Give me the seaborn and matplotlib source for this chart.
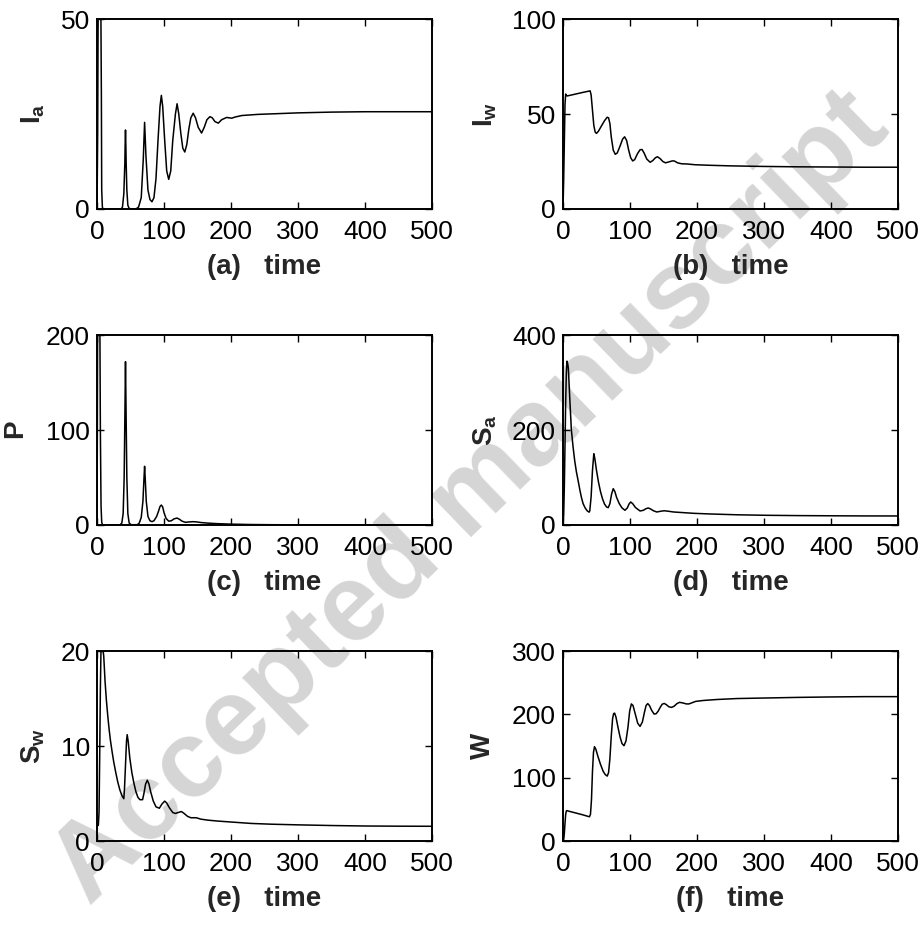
import matplotlib
matplotlib.use("Agg")
import matplotlib.pyplot as plt
import seaborn as sns
import pandas as pd

# values, (time, value)
ia = [(0, 0), (1, 20), (1.5, 45), (2, 60), (5.5, 60), (6.5, 30), (7, 5), (8, 0.5), (9, 0),
      (36, 0), (38, 0.5), (40, 4), (41.5, 12), (42, 17), (42.5, 20.8), (43, 17), (43.5, 12),
      (44.5, 5), (46, 1), (48, 0.1), (58, 0), (62, 0.5), (66, 3), (69, 13), (71, 22.8),
      (73, 14), (76, 5), (79, 2.5), (82, 1.9), (85, 3), (88, 8), (91, 18), (94, 27), (96, 29.9),
      (98, 27), (101, 18), (104, 10), (107, 7.8), (110, 10), (113, 18), (117, 25), (119.5, 27.7),
      (122, 25), (125, 20), (128, 16), (131, 15), (134, 17), (137, 21), (140, 24), (143.5, 25.2),
      (147, 24), (151, 21.5), (156, 20), (160, 21.5), (164, 23.5), (168.5, 24.3), (172, 24),
      (176, 23), (181, 22.6), (186, 23.5), (193.5, 24.1), (197, 24), (201, 23.9), (206, 24.2),
      (216, 24.6), (240, 24.9), (270, 25.1), (300, 25.3), (350, 25.5), (400, 25.6), (450, 25.6),
      (500, 25.6)]

iw = [(0, 0), (1, 15), (2, 35), (3, 55), (4, 60.5), (5, 60), (6, 59.5), (10, 59.8), (20, 60.6),
      (30, 61.4), (38, 62), (40.5, 62.2), (42, 60), (44, 52), (46, 44), (48, 40.5), (50, 39.8),
      (53, 41), (57, 43.5), (62, 46.5), (66, 48.3), (68, 48), (70, 45), (72, 38), (75, 31),
      (78, 28.8), (81, 29.5), (85, 33), (89, 36.8), (92, 38), (95, 36), (98, 31), (101, 27),
      (104, 25.3), (107, 26), (111, 29), (115, 31.2), (118, 31.3), (121, 29.5), (125, 26.3),
      (130, 24.6), (134, 25.5), (138, 27), (141, 27.5), (145, 26.5), (149, 25), (153, 24.3),
      (158, 24.8), (163, 25.3), (166, 25.3), (171, 24.3), (177, 23.8), (185, 23.7), (197, 23.3),
      (220, 23), (250, 22.7), (300, 22.4), (350, 22.2), (400, 22.1), (450, 22), (500, 22)]

p = [(0, 0), (0.5, 100), (1, 250), (4, 250), (5, 100), (6, 20), (7, 3), (8, 0.5), (10, 0),
     (34, 0), (37, 2), (39, 12), (40.5, 50), (41.5, 110), (42.5, 172), (43.5, 110), (44.5, 50),
     (46, 12), (48, 2), (51, 0.3), (60, 0.3), (63, 2), (66, 8), (68.5, 25), (70, 48), (71, 61.8),
     (72, 48), (73.5, 25), (76, 9), (79, 4.5), (82, 3.5), (85, 4.5), (89, 9), (92, 15),
     (94, 19.5), (96, 21), (98, 19), (100, 13), (103, 7), (107, 4), (111, 4.5), (115, 6.5),
     (119.5, 7.3), (123, 6), (127, 4), (132, 2.8), (137, 3.2), (143, 3.5), (148, 3.3),
     (155, 2.6), (165, 2), (180, 1.4), (200, 0.9), (230, 0.5), (260, 0.3), (300, 0.2),
     (400, 0.1), (500, 0.1)]

sa = [(0, 0), (1, 20), (2, 80), (3, 170), (4, 260), (5, 320), (6, 345), (7, 340), (8, 330),
      (10, 270), (12.5, 200), (15, 165), (17.5, 135), (20, 112), (22.5, 94), (25, 75),
      (27.5, 58), (30, 45), (33, 36), (36, 30), (39, 27), (40, 30), (42, 60), (44, 115),
      (46, 150), (47.5, 140), (50, 115), (53, 90), (56, 70), (59, 55), (62, 44), (65, 38),
      (67.5, 36.5), (70, 45), (72.5, 65), (75, 76.5), (77.5, 70), (80, 58), (84, 45), (88, 36),
      (92.5, 31), (96, 36), (98.5, 44), (101, 48.4), (104, 45), (108, 37), (115, 29.5),
      (120, 31), (124, 34.5), (127.5, 35.8), (131, 33.5), (135, 30), (140, 27.4), (146, 29),
      (151, 30), (157, 29), (165, 27.4), (180, 26), (195, 24.6), (220, 23.2), (260, 21.5),
      (300, 20.5), (350, 19.8), (400, 19.4), (450, 19.1), (500, 19)]

sw = [(0, 1.8), (1, 1.6), (2, 1.7), (3, 3), (4, 9), (5, 16), (6, 20.5), (7, 21), (8, 20.5),
      (10, 19.5), (12, 16.8), (14, 14.8), (16, 13.2), (18, 11.8), (20, 10.6), (22.5, 9.4),
      (25, 8.3), (28, 7.2), (31, 6.2), (34, 5.4), (37, 4.8), (40, 4.45), (41, 5.5), (42.5, 8),
      (44, 10.5), (45, 11.2), (46.5, 10.5), (49, 8.7), (52, 7.2), (55, 6.1), (58, 5.2),
      (61, 4.6), (64, 4.35), (68, 4.35), (70, 5), (72.5, 6), (75, 6.4), (77.5, 6), (80, 5.2),
      (84, 4.2), (88, 3.6), (93, 3.45), (97, 3.9), (101, 4.2), (104, 4.0), (108, 3.5),
      (113, 3.0), (117, 2.9), (121, 3.0), (126, 3.1), (130, 2.9), (135, 2.6), (140, 2.45),
      (148, 2.45), (155, 2.3), (165, 2.2), (180, 2.1), (200, 2.0), (230, 1.85), (260, 1.77),
      (300, 1.7), (350, 1.63), (400, 1.58), (450, 1.56), (500, 1.55)]

w = [(0, 0), (1, 3), (2, 12), (3, 28), (4, 42), (5, 47.5), (6, 48), (10, 46.7), (20, 44),
     (30, 41.2), (37, 39), (39.5, 38.3), (41, 42), (42.5, 65), (44, 110), (45.5, 140),
     (47, 149), (49, 145), (52, 134), (56, 121), (60, 110), (63, 105), (66, 102.5), (68, 108),
     (70, 130), (72, 165), (74, 193), (75.5, 201), (77, 202), (79, 196), (82, 180), (85, 165),
     (88, 154), (91, 150.5), (94, 158), (97, 180), (99.5, 205), (102, 216.5), (104.5, 214),
     (108, 200), (111.5, 186), (115, 181), (118.5, 188), (121.5, 203), (124, 214),
     (126.5, 217), (129, 214), (132.5, 206), (136, 200.5), (139, 201), (142, 205), (145, 211),
     (148, 216), (151, 217.3), (154, 215.5), (158, 212), (162, 211), (166, 213), (170, 217),
     (174, 219), (179, 218), (184, 216.5), (188, 216.5), (193, 218.5), (198, 220.5),
     (210, 222), (230, 223.5), (260, 225), (300, 225.8), (350, 226.8), (400, 227.5),
     (450, 228), (500, 228)]

ylabels = [r"$\mathbf{I_a}$", r"$\mathbf{I_w}$", r"$\mathbf{P}$",
           r"$\mathbf{S_a}$", r"$\mathbf{S_w}$", r"$\mathbf{W}$"]
letters = ["a", "b", "c", "d", "e", "f"]
ytick_sets = [[0, 50], [0, 50, 100], [0, 100, 200],
              [0, 200, 400], [0, 10, 20], [0, 100, 200, 300]]
xticks = [0, 100, 200, 300, 400, 500]
ylabel_x = [-0.15, -0.19, -0.2, -0.19, -0.15, -0.2]

sns.set_style("ticks")
plt.rcParams["font.family"] = ["Liberation Sans", "DejaVu Sans"]
plt.rcParams["mathtext.fontset"] = "custom"
plt.rcParams["mathtext.bf"] = "Liberation Sans:bold"
plt.rcParams["mathtext.rm"] = "Liberation Sans"

fig = plt.figure(figsize=(9.24, 9.33), dpi=100)
fig.patch.set_facecolor("white")

# watermark behind the axes content
fig.text(0.51, 0.465, "Accepted manuscript", rotation=44, fontsize=79,
         fontweight="bold", family="Liberation Sans", color="#d5d5d5",
         ha="center", va="center", zorder=-10)

lefts = [0.105, 0.6093]
bottoms = [0.776, 0.4373, 0.0986]
aw, ah = 0.3626, 0.2036

series = [ia, iw, p, sa, sw, w]
for i, data in enumerate(series):
    ax = fig.add_axes([lefts[i % 2], bottoms[i // 2], aw, ah])
    ax.set_facecolor("none")
    df = pd.DataFrame(data, columns=["time", "value"])
    sns.lineplot(data=df, x="time", y="value", ax=ax, color="black",
                 linewidth=1.1, estimator=None, sort=False)
    yt = ytick_sets[i]
    ax.set_xlim(0, 500)
    ax.set_ylim(yt[0], yt[-1])
    ax.set_xticks(xticks)
    ax.set_yticks(yt)
    ax.tick_params(direction="in", top=True, right=True, length=5, width=1,
                   labelsize=19, colors="black")
    ax.tick_params(axis="x", pad=8)
    ax.tick_params(axis="y", pad=5)
    for s in ax.spines.values():
        s.set_linewidth(1.4)
        s.set_color("black")
    ax.set_xlabel(f"({letters[i]})   time", fontsize=20, fontweight="bold", labelpad=7)
    ax.set_ylabel(ylabels[i], fontsize=20)
    ax.yaxis.set_label_coords(ylabel_x[i], 0.5)

fig.savefig("out.png", dpi=100, facecolor="white")
